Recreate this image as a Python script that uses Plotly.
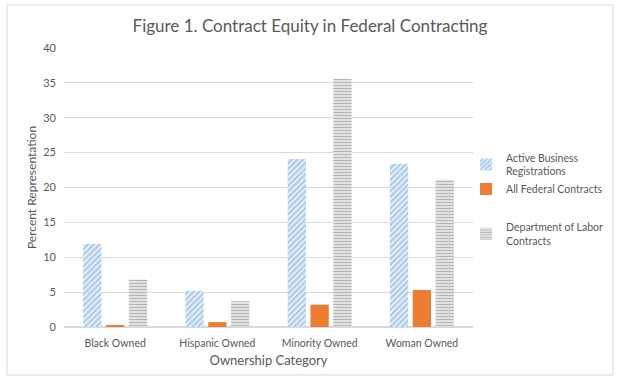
import plotly.graph_objects as go

categories = ["Black Owned", "Hispanic Owned", "Minority Owned", "Woman Owned"]
active_business = [11.9, 5.2, 24.1, 23.4]
all_federal = [0.25, 0.7, 3.2, 5.3]
dol_contracts = [6.8, 3.7, 35.6, 21.1]
series_names = ["Active Business<br>Registrations", "All Federal Contracts", "Department of Labor<br>Contracts"]
y_ticks = [0, 5, 10, 15, 20, 25, 30, 35, 40]

FONT = "Lato, Carlito, 'Open Sans', sans-serif"
TXT = "#595959"

fig = go.Figure()
fig.add_trace(go.Bar(
    x=categories, y=active_business, name=series_names[0], legendgroup="a",
    marker=dict(color="white", line=dict(width=0),
                pattern=dict(shape="/", fgcolor="#5B9BD5", bgcolor="white", size=4, solidity=0.7)),
))
fig.add_trace(go.Bar(
    x=categories, y=all_federal, name=series_names[1], legendgroup="a",
    marker=dict(color="#ED7D31", line=dict(width=0)),
))
fig.add_trace(go.Bar(
    x=categories, y=dol_contracts, name=series_names[2], legendgroup="b",
    marker=dict(color="white", line=dict(width=0),
                pattern=dict(shape="-", fgcolor="#6E6E6E", bgcolor="white", size=3, solidity=0.6)),
))

fig.update_layout(
    width=620, height=383,
    margin=dict(l=64, r=147, t=48, b=56, autoexpand=False),
    paper_bgcolor="white", plot_bgcolor="white",
    barmode="group", bargap=0.33, bargroupgap=0.2,
    font=dict(family=FONT, color=TXT, size=11),
    title=dict(text="Figure 1. Contract Equity in Federal Contracting",
               x=0.5, xref="container", xanchor="center",
               y=1 - 26 / 383, yref="container", yanchor="middle",
               font=dict(size=17, color=TXT, family=FONT)),
    legend=dict(x=0.983, y=0.655, xanchor="left", yanchor="top",
                font=dict(size=10.5, color=TXT, family=FONT),
                tracegroupgap=20, itemwidth=30, bgcolor="rgba(0,0,0,0)"),
    showlegend=True,
)
fig.update_xaxes(
    title=dict(text="Ownership Category", font=dict(size=13, color=TXT), standoff=8),
    tickfont=dict(size=10.5, color=TXT),
    showline=True, linecolor="#D9D9D9", linewidth=1,
    ticks="", showgrid=False, ticklabelstandoff=6, automargin=True,
)
fig.update_yaxes(
    title=dict(text="Percent Representation", font=dict(size=12, color=TXT), standoff=4),
    range=[0, 40], tickvals=y_ticks,
    tickfont=dict(size=11, color=TXT),
    showgrid=True, gridcolor="#D9D9D9", gridwidth=1,
    zeroline=True, zerolinecolor="#D9D9D9",
    showline=False, ticks="", ticklabelstandoff=7, automargin=False,
)
fig.add_shape(type="rect", xref="paper", yref="paper",
              x0=-0.1394, x1=1.3423, y0=-0.172, y1=1.1541,
              line=dict(color="#D9D9D9", width=1), fillcolor="rgba(0,0,0,0)", layer="below")

fig.write_html("out.html", config={"displayModeBar": False},
               post_script="document.body.style.margin='0';")
